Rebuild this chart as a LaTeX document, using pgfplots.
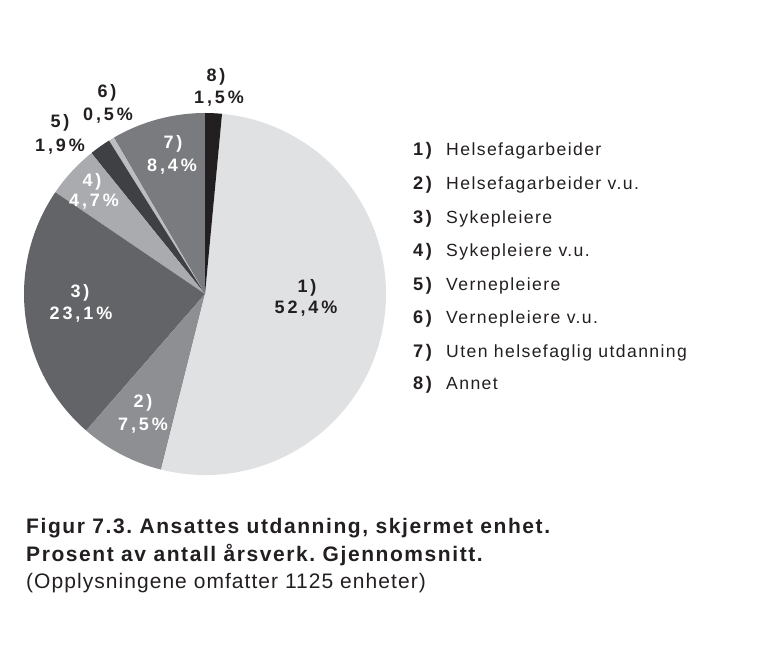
\documentclass[border=0pt]{standalone}
\usepackage{pgfplots}
\pgfplotsset{compat=1.18}
\usepackage{pgfplotstable}
\usepackage{fontspec}
\setmainfont{Liberation Sans}
\newfontfamily\lblfont[LetterSpace=16]{Liberation Sans}
\newfontfamily\legnfont[LetterSpace=14]{Liberation Sans}
\newfontfamily\legfont[LetterSpace=8]{Liberation Sans}
\newfontfamily\capbfont[LetterSpace=7.5]{Liberation Sans}
\newfontfamily\capfont[LetterSpace=5]{Liberation Sans}
\definecolor{txt}{HTML}{231F20}
\definecolor{s1}{HTML}{E0E1E3}
\definecolor{s2}{HTML}{8E8F93}
\definecolor{s3}{HTML}{636467}
\definecolor{s4}{HTML}{AAABAE}
\definecolor{s5}{HTML}{3F4043}
\definecolor{s6}{HTML}{BCBDC0}
\definecolor{s7}{HTML}{7A7B7F}
\definecolor{s8}{HTML}{231F20}
\tikzset{
  lbl/.style={font=\lblfont\bfseries\fontsize{18bp}{20bp}\selectfont, anchor=base, inner sep=0pt},
  leg/.style={font=\legfont\fontsize{17.6bp}{20bp}\selectfont, anchor=base west, inner sep=0pt, text=txt},
  legn/.style={font=\legnfont\bfseries\fontsize{18.2bp}{20bp}\selectfont, anchor=base west, inner sep=0pt, text=txt},
  capt/.style={font=\capbfont\bfseries\fontsize{21bp}{24bp}\selectfont, anchor=base west, inner sep=0pt, text=txt},
  captr/.style={font=\capfont\fontsize{21bp}{24bp}\selectfont, anchor=base west, inner sep=0pt, text=txt},
}
% slices counter-clockwise from 12 o'clock
\pgfplotstableread{
id value col
7 8.4 s7
6 0.5 s6
5 1.9 s5
4 4.7 s4
3 23.1 s3
2 7.5 s2
1 52.4 s1
8 1.5 s8
}\piedata
\begin{document}
\frenchspacing
\begin{tikzpicture}
\begin{axis}[at={(0,0)}, anchor=south west, width=769bp, height=655bp,
  scale only axis, xmin=0, xmax=769, ymin=0, ymax=655, y dir=reverse,
  hide axis, clip=false]
\def\s{90}
\pgfplotsforeachungrouped \i in {0,...,7}{%
  \pgfplotstablegetelem{\i}{value}\of\piedata \let\v\pgfplotsretval
  \pgfplotstablegetelem{\i}{col}\of\piedata \let\c\pgfplotsretval
  \pgfmathsetmacro\e{\s+3.6*\v}%
  \edef\cmd{\noexpand\fill[\c] (axis cs:205,294) -- ++(\s:181bp) arc[start angle=\s, end angle=\e, radius=181bp] -- cycle;}%
  \cmd
  \let\s\e
}
% slice labels
\node[lbl, text=txt] at (axis cs:216,82) {8)};
\node[lbl, text=txt] at (axis cs:219,104) {1,5\%};
\node[lbl, text=txt] at (axis cs:107,97.5) {6)};
\node[lbl, text=txt] at (axis cs:108,120.5) {0,5\%};
\node[lbl, text=txt] at (axis cs:60,128) {5)};
\node[lbl, text=txt] at (axis cs:60,152) {1,9\%};
\node[lbl, text=white] at (axis cs:173,149) {7)};
\node[lbl, text=white] at (axis cs:172,172) {8,4\%};
\node[lbl, text=white] at (axis cs:92,187) {4)};
\node[lbl, text=white] at (axis cs:94,207) {4,7\%};
\node[lbl, text=white] at (axis cs:80,297) {3)};
\node[lbl, text=white] at (axis cs:81,319.5) {23,1\%};
\node[lbl, text=txt] at (axis cs:307,292) {1)};
\node[lbl, text=txt] at (axis cs:306,313.5) {52,4\%};
\node[lbl, text=white] at (axis cs:143,407) {2)};
\node[lbl, text=white] at (axis cs:143,430) {7,5\%};
% legend
\node[legn] at (axis cs:413,156) {1)}; \node[leg] at (axis cs:446,156) {Helsefagarbeider};
\node[legn] at (axis cs:413,189.5) {2)}; \node[leg] at (axis cs:446,189.5) {Helsefagarbeider v.u.};
\node[legn] at (axis cs:413,223) {3)}; \node[leg] at (axis cs:446,223) {Sykepleiere};
\node[legn] at (axis cs:413,256.5) {4)}; \node[leg] at (axis cs:446,256.5) {Sykepleiere v.u.};
\node[legn] at (axis cs:413,290) {5)}; \node[leg] at (axis cs:446,290) {Vernepleiere};
\node[legn] at (axis cs:413,323) {6)}; \node[leg] at (axis cs:446,323) {Vernepleiere v.u.};
\node[legn] at (axis cs:413,357) {7)}; \node[leg] at (axis cs:446,357) {Uten helsefaglig utdanning};
\node[legn] at (axis cs:413,389.5) {8)}; \node[leg] at (axis cs:446,389.5) {Annet};
% caption
\node[capt] at (axis cs:26,533.5) {Figur 7.3. Ansattes utdanning, skjermet enhet.};
\node[capt] at (axis cs:26,561) {Prosent av antall årsverk. Gjennomsnitt.};
\node[captr] at (axis cs:26,588) {(Opplysningene omfatter 1125 enheter)};
\end{axis}
\path (0,0) rectangle (769bp,655bp);
\end{tikzpicture}
\end{document}
